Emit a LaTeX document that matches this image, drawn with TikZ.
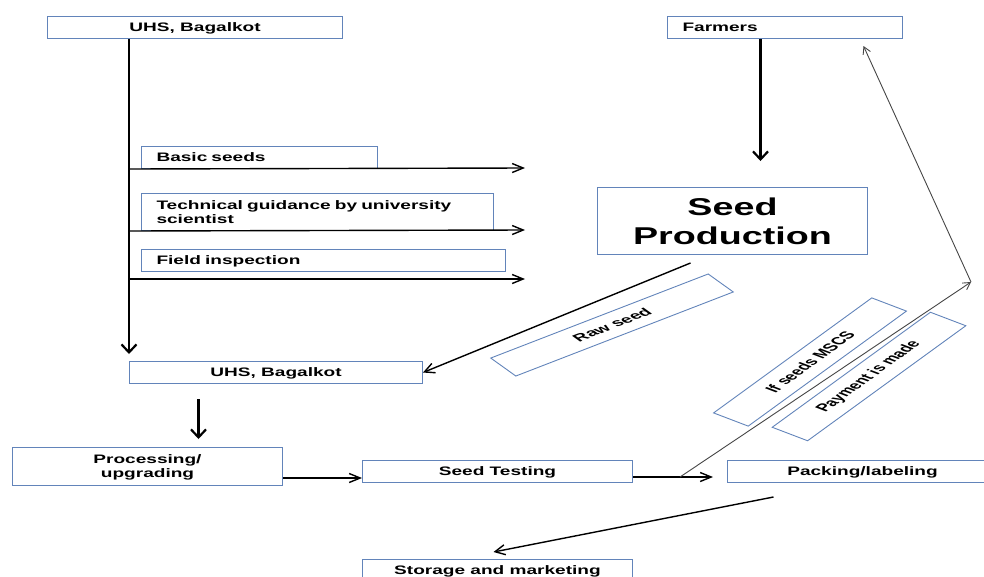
\documentclass[tikz,border=0pt]{standalone}
\usepackage{fontspec}
\setmainfont{Liberation Sans}[FakeStretch=1.55]
\newfontfamily\plainsans{Liberation Sans}
\usetikzlibrary{arrows.meta,positioning}
\definecolor{boxblue}{RGB}{98,132,186}
\definecolor{backgray}{RGB}{70,70,70}
\newcommand{\smallbf}{\fontsize{12.3}{14}\selectfont\bfseries}
\newcommand{\bigbf}{\fontsize{24.3}{29}\selectfont\bfseries}
\newcommand{\tiltbf}{\plainsans\fontsize{10.5}{12}\selectfont\bfseries}

\begin{document}
\begin{tikzpicture}[x=1pt,y=-1pt,
  box/.style={draw=boxblue,line width=1pt,minimum height=22pt,inner sep=0pt,text depth=0pt,font=\smallbf,align=center,anchor=north west},
  leftbox/.style={box,align=left,inner xsep=15pt},
  tilted/.style={draw=boxblue,line width=0.9pt,inner sep=0pt,xscale=1.9,font=\tiltbf},
  hflow/.style={-{Straight Barb[length=11pt,width=9pt]},line width=1.4pt},
  vflow/.style={-{Straight Barb[length=8pt,width=15pt]},line width=2.2pt},
  dflow/.style={-{Straight Barb[length=10pt,width=10pt]},line width=1.4pt},
  backflow/.style={-{Straight Barb[length=7pt,width=8pt]},line width=0.9pt,draw=backgray}]
  \useasboundingbox (0,0) rectangle (984,576);

  \node[box,minimum width=295pt]                    (uhsa)    at (47,16)   {UHS, Bagalkot};
  \node[leftbox,text width=205pt]                   (farmers) at (667,16)  {Farmers};
  \node[leftbox,text width=206pt]                   (basic)   at (141,146) {Basic seeds};
  \node[leftbox,text width=322pt,text depth=14pt,minimum height=37pt] (guide) at (141,193) {Technical guidance by university\\scientist};
  \node[leftbox,text width=334pt]                   (inspect) at (141,249) {Field inspection};
  \node[box,minimum width=270pt,minimum height=67pt,font=\bigbf] (sp) at (597,187) {Seed\\Production};
  \node[box,minimum width=293pt]                    (uhsb)    at (129,361) {UHS, Bagalkot};
  \node[box,minimum width=270pt,minimum height=38pt] (proc)   at (12,447)  {Processing/\\upgrading};
  \node[box,minimum width=270pt]                    (test)    at (362,460) {Seed Testing};
  \node[box,minimum width=270pt,right=94pt of test] (pack)    {Packing/labeling};
  \node[box,minimum width=270pt,below=76pt of test] (store)   {Storage and marketing};

  \node[tilted,rotate=36.3,minimum width=142pt,minimum height=22.3pt] (raw)  at (612,325)   {Raw seed};
  \node[tilted,rotate=54.1,minimum width=142pt,minimum height=22.5pt] (mscs) at (810,362)   {If seeds MSCS};
  \node[tilted,rotate=54.1,minimum width=142pt,minimum height=23pt]   (pay)  at (869,376.5) {Payment is made};

  \coordinate (e1) at (525,168);
  \coordinate (e2) at (525,230);
  \coordinate (e3) at (525,279);
  \coordinate (fork) at (680,477);
  \coordinate (turn) at (971,282);

  \draw[vflow,shorten >=7pt] (uhsa.south -| uhsb.west) -- (uhsb.north west);
  \draw[hflow] (uhsb.west |- basic.south) -- (e1);
  \draw[hflow] (uhsb.west |- guide.south) -- (e2);
  \draw[hflow] (uhsb.west |- e3) -- (e3);
  \draw[vflow,shorten >=26pt] ([xshift=-24.5pt]farmers.south) -- ([xshift=-24.5pt]farmers.south |- sp.north);
  \draw[dflow] ([shift={(-42,8)}]sp.south) -- (uhsb.east);
  \draw[vflow,shorten <=15pt,shorten >=8pt] ([xshift=-77.5pt]uhsb.south) -- ([xshift=-77.5pt]uhsb.south |- proc.north);
  \draw[hflow] ([yshift=8pt]proc.south east) -- ([yshift=8pt]proc.south east -| test.west);
  \draw[hflow,shorten >=14pt] (test.east |- fork) -- (pack.west |- fork);
  \draw[backflow] (fork) -- (turn);
  \draw[backflow] (turn) -- ([shift={(78.5,7)}]farmers.south);
  \draw[dflow] ([shift={(-89,14)}]pack.south) -- ([shift={(-4,-7)}]store.north);
\end{tikzpicture}
\end{document}
